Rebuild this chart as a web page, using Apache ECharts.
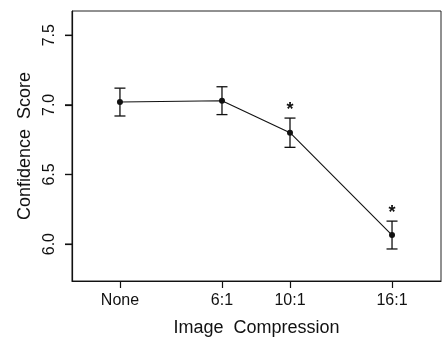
<!DOCTYPE html>
<html>
<head>
<meta charset="utf-8">
<script src="https://cdn.jsdelivr.net/npm/echarts@6/dist/echarts.min.js"></script>
<style>
  html, body { margin: 0; padding: 0; background: #fff; }
  #chart { width: 442px; height: 342px; }
</style>
</head>
<body>
<div id="chart"></div>
<script>
// Compression levels, their position on the ratio scale, and mean scores with error bars
const categories = ['None', '6:1', '10:1', '16:1'];
const ratios = [0, 6, 10, 16];
const means = [7.02, 7.03, 6.80, 6.065];
const errors = [0.10, 0.10, 0.105, 0.10];
const significant = [false, false, true, true];
const yTicks = [6.0, 6.5, 7.0, 7.5];

const FONT = '"Liberation Sans", Arial, Helvetica, sans-serif';
const X_RANGE = [-2.82, 18.88];
const Y_RANGE = [5.735, 7.674];
const TICK_LEN = 7;

const lineData = ratios.map((r, i) => [r, means[i]]);
const barData = ratios.map((r, i) => [r, means[i] - errors[i], means[i] + errors[i], significant[i] ? 1 : 0]);
const yTickData = yTicks.map(v => [X_RANGE[0], v]);

const chart = echarts.init(document.getElementById('chart'), null, { renderer: 'canvas' });

const axisStroke = { color: '#111', width: 1.2 };

chart.setOption({
  animation: false,
  backgroundColor: '#fff',
  grid: {
    left: 72, right: 1, top: 11, bottom: 61,
    show: true, borderColor: '#222', borderWidth: 1, backgroundColor: 'transparent'
  },
  xAxis: {
    type: 'value',
    position: 'bottom',
    min: X_RANGE[0], max: X_RANGE[1],
    splitLine: { show: false },
    axisLine: { show: true, onZero: false, lineStyle: axisStroke },
    axisTick: { show: true, inside: false, length: TICK_LEN, customValues: ratios, lineStyle: axisStroke },
    axisLabel: {
      customValues: ratios,
      margin: 12,
      color: '#111', fontFamily: FONT, fontSize: 16,
      formatter: v => categories[ratios.indexOf(v)] ?? ''
    },
    name: 'Image  Compression',
    nameLocation: 'middle',
    nameGap: 38,
    nameTextStyle: { color: '#111', fontFamily: FONT, fontSize: 18 }
  },
  yAxis: {
    type: 'value',
    position: 'left',
    min: Y_RANGE[0], max: Y_RANGE[1],
    splitLine: { show: false },
    axisLine: { show: true, onZero: false, lineStyle: axisStroke },
    axisTick: { show: true, inside: false, length: TICK_LEN, customValues: yTicks, lineStyle: axisStroke },
    axisLabel: {
      customValues: yTicks,
      rotate: 90,
      margin: 14,
      color: '#111', fontFamily: FONT, fontSize: 16,
      formatter: v => v.toFixed(1)
    },
    name: 'Confidence  Score',
    nameLocation: 'middle',
    nameGap: 38,
    nameTextStyle: { color: '#111', fontFamily: FONT, fontSize: 18 }
  },
  series: [
    {
      // outward tick marks on the left edge of the frame
      type: 'custom',
      data: yTickData,
      clip: false,
      silent: true,
      z: 10,
      renderItem: (params, api) => {
        const p = api.coord([api.value(0), api.value(1)]);
        return {
          type: 'rect',
          shape: { x: p[0] - TICK_LEN, y: p[1] - 0.6, width: TICK_LEN, height: 1.2 },
          style: { fill: '#111' }
        };
      }
    },
    {
      type: 'custom',
      data: barData,
      z: 3,
      renderItem: (params, api) => {
        const x = api.value(0);
        const lo = api.coord([x, api.value(1)]);
        const hi = api.coord([x, api.value(2)]);
        const hw = 5.5;
        const style = { stroke: '#111', lineWidth: 1.3 };
        const children = [
          { type: 'line', shape: { x1: lo[0], y1: lo[1], x2: hi[0], y2: hi[1] }, style },
          { type: 'line', shape: { x1: lo[0] - hw, y1: lo[1], x2: lo[0] + hw, y2: lo[1] }, style },
          { type: 'line', shape: { x1: hi[0] - hw, y1: hi[1], x2: hi[0] + hw, y2: hi[1] }, style }
        ];
        if (api.value(3)) {
          // significance marker above the upper cap
          children.push({
            type: 'text',
            style: {
              x: hi[0], y: hi[1] - 8.5, text: '*',
              textAlign: 'center', textVerticalAlign: 'middle',
              fill: '#111', font: 'bold 18px ' + FONT
            }
          });
        }
        return { type: 'group', children };
      }
    },
    {
      type: 'line',
      data: lineData,
      z: 4,
      symbol: 'circle',
      symbolSize: 6,
      itemStyle: { color: '#111' },
      lineStyle: { color: '#111', width: 1.1 }
    }
  ]
});
</script>
</body>
</html>
